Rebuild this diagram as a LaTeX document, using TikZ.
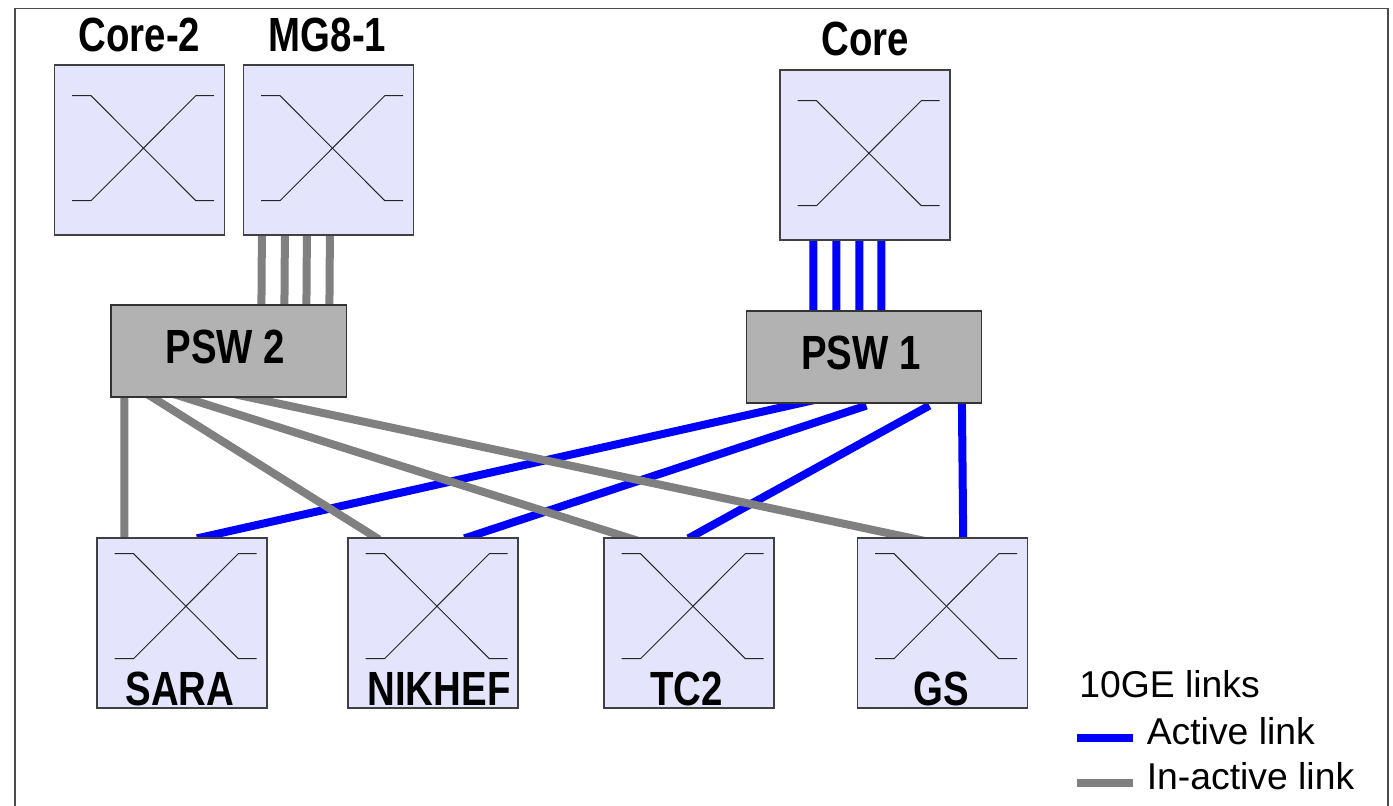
\documentclass[tikz,border=0pt]{standalone}
\usepackage{fontspec}
\setmainfont{Liberation Sans}
\newfontfamily\boxfont[FakeStretch=0.80]{Liberation Sans Bold}
\usetikzlibrary{backgrounds}
\definecolor{switchfill}{HTML}{E4E4FC}
\definecolor{pswfill}{HTML}{B2B2B2}
\definecolor{inactivecol}{HTML}{808080}
\begin{document}
\begin{tikzpicture}[x=0.75pt,y=-0.75pt]
\tikzstyle{switchbox}=[draw=black!75, line width=0.9pt, fill=switchfill, inner sep=0pt, minimum size=127.5pt]
\tikzstyle{pswbox}=[draw=black!80, line width=0.9pt, fill=pswfill, inner sep=0pt, minimum width=176.5pt, minimum height=69pt, font=\boxfont\fontsize{36}{40}\selectfont, text depth=7pt]
\tikzstyle{boxlabel}=[anchor=base, inner sep=0pt, font=\boxfont\fontsize{36}{40}\selectfont]
\tikzstyle{legendtext}=[anchor=base west, inner sep=0pt, font=\fontsize{28}{32}\selectfont]
\tikzstyle{activelink}=[blue, line width=6pt]
\tikzstyle{inactivelink}=[inactivecol, line width=6pt]
\tikzstyle{crossline}=[black!85, line width=0.7pt]

\useasboundingbox (0,0) rectangle (1393,806);

\coordinate (fa) at (15,806);
\coordinate (fb) at (15,8.5);
\coordinate (fc) at (1388,8.5);
\coordinate (fd) at (1388,806);
\draw[black!70, line width=0.9pt] (fa) -- (fb) -- (fc) -- (fd);

\node[switchbox] (core2) at (139.5,150) {};
\node[switchbox] (mg81) at (328.5,150) {};
\node[switchbox] (core) at (865,155) {};
\node[pswbox] (psw2) at (228.7,351) {PSW 2\hspace*{5pt}};
\node[pswbox] (psw1) at (864.2,357) {PSW 1\hspace*{5pt}};
\node[switchbox] (sara) at (182,623) {};
\node[switchbox] (nikhef) at (433,623) {};
\node[switchbox] (tc2) at (689,623) {};
\node[switchbox] (gs) at (942.5,623) {};

\node[boxlabel] (ncore2) at (139.5,52) {Core-2};
\node[boxlabel] (nmg81) at (327.5,52) {MG8-1};
\node[boxlabel] (ncore) at (865.5,56) {Core};
\node[boxlabel] (nsara) at (180,705) {SARA};
\node[boxlabel] (nnikhef) at (439,705) {NIKHEF};
\node[boxlabel] (ntc2) at (686.5,705) {TC2};
\node[boxlabel] (ngs) at (941,705) {GS};

\foreach \n/\d in {core2/0,mg81/0,core/0,sara/-15,nikhef/-15,tc2/-15,gs/-15} {
  \draw[crossline] ([shift={(-67.4,-54.3+\d)}]\n.center) -- ([shift={(-48.4,-54.3+\d)}]\n.center)
    -- ([shift={(56.3,50.7+\d)}]\n.center) -- ([shift={(74.6,50.7+\d)}]\n.center);
  \draw[crossline] ([shift={(-67.4,50.7+\d)}]\n.center) -- ([shift={(-48.4,50.7+\d)}]\n.center)
    -- ([shift={(56.3,-54.3+\d)}]\n.center) -- ([shift={(74.6,-54.3+\d)}]\n.center);
}

\begin{scope}[on background layer]
\foreach \a/\b in {19/151,42/174,64/196,87/219}
  \draw[inactivelink] ([xshift=\a*0.75pt]mg81.south west) -- ([xshift=\b*0.75pt]psw2.north west);
\foreach \a/\b in {34/67.5,57/90.5,80/113.5,102/135.5}
  \draw[activelink] ([xshift=\a*0.75pt]core.south west) -- ([xshift=\b*0.75pt]psw1.north west);

\draw[activelink] ([shift={(70.2,-4)}]psw1.south west) -- ([shift={(100.6,1)}]sara.north west);
\draw[activelink] ([shift={(120.5,2)}]psw1.south west) -- ([shift={(117,1)}]nikhef.north west);
\draw[activelink] ([shift={(183.5,2)}]psw1.south west) -- ([shift={(85,1)}]tc2.north west);
\draw[activelink] ([shift={(216,0)}]psw1.south west) -- ([shift={(106.3,0)}]gs.north west);

\draw[inactivelink] ([shift={(14,0)}]psw2.south west) -- ([shift={(28,0)}]sara.north west);
\draw[inactivelink] ([shift={(36,-4)}]psw2.south west) -- ([shift={(31.6,2)}]nikhef.north west);
\draw[inactivelink] ([shift={(61.8,-4)}]psw2.south west) -- ([shift={(36.5,4)}]tc2.north west);
\draw[inactivelink] ([shift={(121.2,-4)}]psw2.south west) -- ([shift={(70,4)}]gs.north west);
\end{scope}

\node[legendtext] (ltitle) at (1079,697) {10GE links};
\node[legendtext] (lactive) at (1146.5,744) {Active link};
\node[legendtext] (linactive) at (1146.5,789) {In-active link};
\coordinate (la) at (1077,737.7);
\coordinate (lb) at (1133,737.7);
\coordinate (lc) at (1077,782.7);
\coordinate (ld) at (1133,782.7);
\draw[activelink] (la) -- (lb);
\draw[inactivelink] (lc) -- (ld);
\end{tikzpicture}
\end{document}
